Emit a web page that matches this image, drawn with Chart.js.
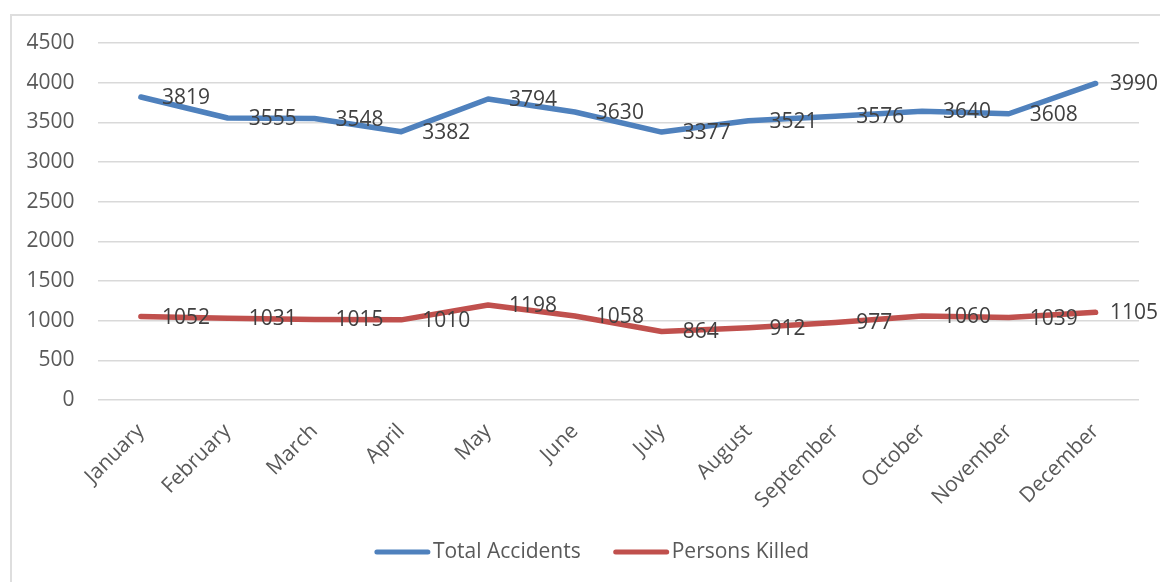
<!DOCTYPE html>
<html>
<head>
<meta charset="utf-8">
<script src="https://cdn.jsdelivr.net/npm/chart.js@4/dist/chart.umd.min.js"></script>
<style>
  html, body { margin: 0; padding: 0; background: #fff; overflow: hidden; }
  #wrap { position: relative; width: 1160px; height: 582px; }
  #frame { position: absolute; left: 10px; top: 14px; width: 1170px; height: 590px; border: 2px solid #dedede; box-sizing: border-box; }
  canvas { position: absolute; left: 0; top: 0; }
</style>
</head>
<body>
<div id="wrap">
  <div id="frame"></div>
  <canvas id="chart" width="1160" height="582"></canvas>
</div>
<script>
const months = ['January', 'February', 'March', 'April', 'May', 'June', 'July', 'August', 'September', 'October', 'November', 'December'];
const totalAccidents = [3819, 3555, 3548, 3382, 3794, 3630, 3377, 3521, 3576, 3640, 3608, 3990];
const personsKilled = [1052, 1031, 1015, 1010, 1198, 1058, 864, 912, 977, 1060, 1039, 1105];
const yTicks = [0, 500, 1000, 1500, 2000, 2500, 3000, 3500, 4000, 4500];

const FONT = '"Open Sans", "Noto Sans", sans-serif';
const BLUE = '#4f81bd';
const RED = '#c0504d';

// value labels to the right of every point, kept inside the canvas
const valueLabels = {
    id: 'valueLabels',
    afterDatasetsDraw(chart) {
        const ctx = chart.ctx;
        ctx.save();
        ctx.font = '21px ' + FONT;
        ctx.fillStyle = '#404040';
        ctx.textAlign = 'left';
        ctx.textBaseline = 'middle';
        chart.data.datasets.forEach((ds, i) => {
            chart.getDatasetMeta(i).data.forEach((pt, j) => {
                const txt = String(ds.data[j]);
                const x = Math.min(pt.x + 21, chart.width - ctx.measureText(txt).width - 2);
                ctx.fillText(txt, x, pt.y + 1);
            });
        });
        ctx.restore();
    }
};

// legend with line swatches, drawn under the axis
const lineLegend = {
    id: 'lineLegend',
    afterDraw(chart) {
        const ctx = chart.ctx;
        ctx.save();
        ctx.font = '21px ' + FONT;
        const sw = 55, gap = 3, between = 33;
        const items = chart.data.datasets.map(ds => ({ text: ds.label, color: ds.borderColor, w: ctx.measureText(ds.label).width }));
        const total = items.reduce((s, it) => s + sw + gap + it.w, 0) + between * (items.length - 1);
        let x = 592 - total / 2;
        const y = 552;
        items.forEach(it => {
            ctx.strokeStyle = it.color;
            ctx.lineWidth = 5;
            ctx.lineCap = 'round';
            ctx.beginPath(); ctx.moveTo(x + 2, y); ctx.lineTo(x + sw - 2, y); ctx.stroke();
            ctx.fillStyle = '#595959';
            ctx.textAlign = 'left';
            ctx.textBaseline = 'middle';
            ctx.fillText(it.text, x + sw + gap, y);
            x += sw + gap + it.w + between;
        });
        ctx.restore();
    }
};

new Chart(document.getElementById('chart').getContext('2d'), {
    type: 'line',
    data: {
        labels: months,
        datasets: [
            { label: 'Total Accidents', data: totalAccidents, borderColor: BLUE, backgroundColor: BLUE },
            { label: 'Persons Killed', data: personsKilled, borderColor: RED, backgroundColor: RED }
        ]
    },
    options: {
        responsive: false,
        animation: false,
        layout: { padding: { top: 43, right: 21, left: 0, bottom: 0 } },
        elements: {
            line: { borderWidth: 5.5, tension: 0, borderCapStyle: 'round', borderJoinStyle: 'round', fill: false },
            point: { radius: 0, hoverRadius: 0 }
        },
        plugins: { legend: { display: false }, tooltip: { enabled: false } },
        scales: {
            x: {
                offset: true,
                grid: { display: false, drawTicks: false },
                border: { display: false },
                ticks: { minRotation: 45, maxRotation: 45, color: '#595959', font: { size: 21, family: FONT }, padding: 19 },
                afterFit(scale) { scale.height = 182; }
            },
            y: {
                min: 0, max: 4500,
                afterBuildTicks(scale) { scale.ticks = yTicks.map(v => ({ value: v })); },
                grid: { color: '#d9d9d9', lineWidth: 1.5, drawTicks: false },
                border: { display: false },
                ticks: { color: '#595959', font: { size: 21, family: FONT }, padding: 23, callback: v => String(v) },
                afterFit(scale) { scale.width = 97.5; }
            }
        }
    },
    plugins: [valueLabels, lineLegend]
});
</script>
</body>
</html>
